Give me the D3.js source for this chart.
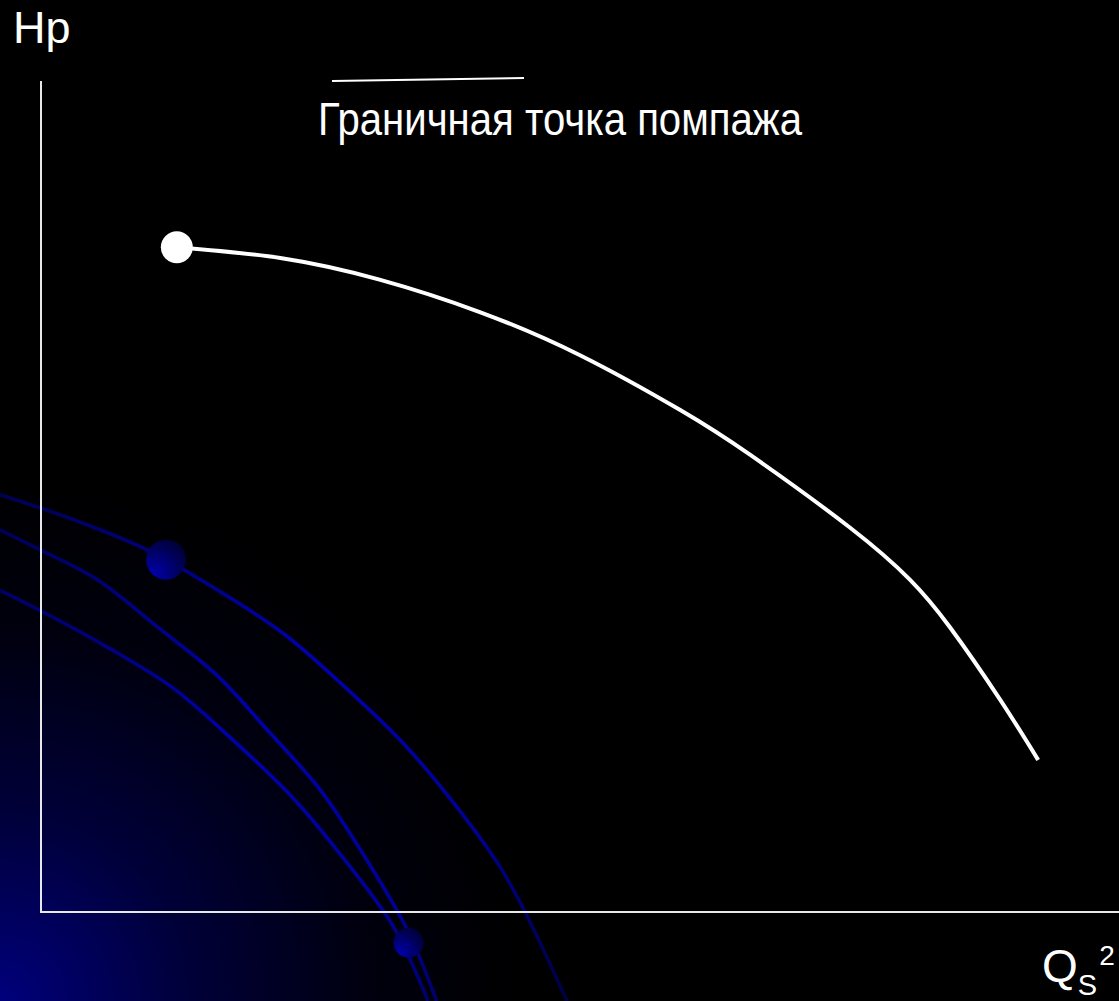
<!DOCTYPE html>
<html>
<head>
<meta charset="utf-8">
<script src="https://cdn.jsdelivr.net/npm/d3@7"></script>
<style>
  html, body { margin: 0; padding: 0; background: #000; }
  svg { display: block; }
  text { font-family: "Liberation Sans", Arial, sans-serif; fill: #fff; }
</style>
</head>
<body>
<svg id="chart" width="1119" height="1001"></svg>
<script>
// ---- Data (chart units: Qs^2 on x, Hp on y, both 0..100) ----
const qs2 = [12.6, 22.2, 31.4, 40.7, 50.0, 59.3, 65.8, 75.0, 80.6, 84.3, 89.0, 92.5];
const hp  = [80.0, 78.7, 76.1, 72.2, 67.0, 60.4, 55.0, 46.3, 40.0, 34.3, 25.5, 18.3];
const surgeIndex = 0; // surge boundary point = first point of the curve

// Decorative template arcs (same units)
const arc1X = [-3.8, 2.4, 9.8, 16.3, 22.4, 28.0, 33.6, 38.6, 42.6, 44.9, 48.8];
const arc1Y = [50.2, 47.5, 43.6, 38.8, 33.6, 27.3, 20.3, 12.6, 5.4, 0, -10.7];
const arc2X = [-3.8, -0.1, 5.2, 10.8, 16.3, 21.0, 25.9, 30.2, 34.0, 36.7];
const arc2Y = [46.0, 43.6, 40.0, 34.3, 28.5, 21.9, 14.7, 6.3, -2.2, -10.7];
const arc3X = [-3.8, -0.7, 6.1, 12.2, 17.8, 23.4, 28.4, 32.7, 35.9];
const arc3Y = [38.7, 36.7, 31.9, 27.0, 20.7, 13.7, 5.9, -1.8, -10.7];
const decoDotX = [11.6, 34.1];
const decoDotY = [42.4, -3.7];

const yLabel = "Hp";
const xLabelMain = "Q";
const xLabelSub = "S";
const xLabelSup = "2";
const annotation = "Граничная точка помпажа";

// ---- Layout ----
const W = 1119, H = 1001;
const svg = d3.select("#chart");
const x = d3.scaleLinear().domain([0, 100]).range([41, 1119]);
const y = d3.scaleLinear().domain([0, 100]).range([912, 81]);

const defs = svg.append("defs");
const bg = defs.append("radialGradient").attr("id", "bg")
  .attr("gradientUnits", "userSpaceOnUse").attr("cx", 0).attr("cy", H).attr("r", 620);
bg.append("stop").attr("offset", 0).attr("stop-color", "#00007c");
bg.append("stop").attr("offset", 0.3).attr("stop-color", "#00003a");
bg.append("stop").attr("offset", 0.6).attr("stop-color", "#00000e");
bg.append("stop").attr("offset", 0.85).attr("stop-color", "#000000");

const ag = defs.append("linearGradient").attr("id", "arcg")
  .attr("gradientUnits", "userSpaceOnUse").attr("x1", 0).attr("y1", 480).attr("x2", 560).attr("y2", 1001);
ag.append("stop").attr("offset", 0).attr("stop-color", "#000050");
ag.append("stop").attr("offset", 0.45).attr("stop-color", "#0000aa");
ag.append("stop").attr("offset", 0.75).attr("stop-color", "#000096");
ag.append("stop").attr("offset", 1).attr("stop-color", "#000044");

const dg = defs.append("radialGradient").attr("id", "dotg")
  .attr("cx", 0.2).attr("cy", 0.85).attr("r", 1);
dg.append("stop").attr("offset", 0).attr("stop-color", "#0000a8");
dg.append("stop").attr("offset", 0.9).attr("stop-color", "#00003c");

svg.append("rect").attr("width", W).attr("height", H).attr("fill", "url(#bg)");

// decorative arcs
const decoLine = d3.line().x(d => x(d[0])).y(d => y(d[1])).curve(d3.curveCatmullRom);
[[arc1X, arc1Y], [arc2X, arc2Y], [arc3X, arc3Y]].forEach(([ax, ay]) => {
  svg.append("path")
    .attr("d", decoLine(ax.map((v, i) => [v, ay[i]])))
    .attr("fill", "none").attr("stroke", "url(#arcg)").attr("stroke-width", 3.6);
});
svg.selectAll("circle.deco").data(decoDotX.map((v, i) => [v, decoDotY[i]]))
  .join("circle").attr("class", "deco")
  .attr("cx", d => x(d[0])).attr("cy", d => y(d[1]))
  .attr("r", (d, i) => i === 0 ? 20 : 15)
  .attr("fill", "url(#dotg)");

// axes (plain lines, no ticks)
svg.append("line").attr("x1", x(0)).attr("x2", x(0)).attr("y1", y(100)).attr("y2", y(0))
  .attr("stroke", "#e8e8e8").attr("stroke-width", 2);
svg.append("line").attr("x1", x(0) - 1).attr("x2", x(100)).attr("y1", y(0)).attr("y2", y(0))
  .attr("stroke", "#e8e8e8").attr("stroke-width", 2);

// labels
svg.append("text").attr("x", 13).attr("y", 43).attr("font-size", 45).text(yLabel);
const xl = svg.append("text").attr("x", 1042).attr("y", 982).attr("font-size", 46);
xl.append("tspan").text(xLabelMain);
xl.append("tspan").attr("font-size", 29).attr("dy", 13).text(xLabelSub);
xl.append("tspan").attr("font-size", 28).attr("dx", 2).attr("dy", -30).text(xLabelSup);

// annotation text and line
svg.append("line").attr("x1", 332).attr("y1", 81).attr("x2", 524).attr("y2", 78)
  .attr("stroke", "#fff").attr("stroke-width", 2);
svg.append("text").attr("x", 318).attr("y", 135).attr("font-size", 47)
  .attr("textLength", 484).attr("lengthAdjust", "spacingAndGlyphs").text(annotation);

// characteristic curve
const pts = qs2.map((v, i) => [v, hp[i]]);
svg.append("path")
  .attr("d", d3.line().x(d => x(d[0])).y(d => y(d[1])).curve(d3.curveNatural)(pts))
  .attr("fill", "none").attr("stroke", "#fff").attr("stroke-width", 4);
svg.append("circle").attr("cx", x(qs2[surgeIndex])).attr("cy", y(hp[surgeIndex]))
  .attr("r", 16).attr("fill", "#fff");
</script>
</body>
</html>
